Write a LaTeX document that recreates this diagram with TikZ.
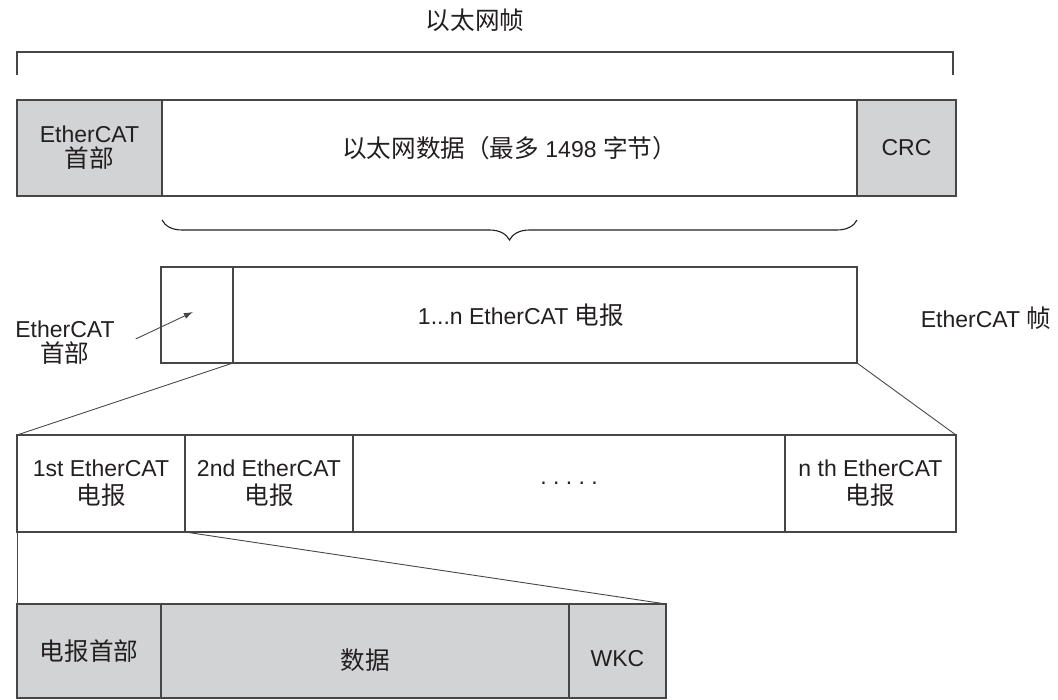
\documentclass[tikz,border=0pt]{standalone}
\usepackage{fontspec}
\setmainfont{Liberation Sans}
\newfontfamily\cjk[Scale=1.07]{Noto Sans CJK SC}
\newcommand{\zh}[1]{{\cjk #1}}
\usetikzlibrary{positioning,arrows.meta,decorations.pathreplacing}
\definecolor{fieldgray}{RGB}{209,211,212}
\definecolor{linegray}{RGB}{70,70,70}
\definecolor{inkgray}{RGB}{35,31,32}
\tikzset{>={Latex[width=2.2mm,length=3.2mm]}}
\tikzset{
	txt/.style={inner sep=0pt, outer sep=0pt, align=center, text=inkgray, font=\fontsize{23}{25}\selectfont},
	field/.style={txt, draw=linegray, line width=1.4pt, minimum height=96pt},
	grayfield/.style={field, fill=fieldgray},
	thinline/.style={draw=linegray, line width=0.9pt},
	bracket/.style={draw=linegray, line width=1.2pt},
	curly/.style={draw=inkgray, line width=1.1pt, decorate, decoration={brace, mirror, amplitude=20pt}}
}

\begin{document}
\begin{tikzpicture}[x=1pt, y=-1pt]
	\useasboundingbox (0,0) rectangle (1058,700);
	
	% Ethernet frame
	\node[txt] (title) at (475,20) {\zh{以太网帧}};
	\draw[bracket] (17,75) |- (953,52) -- (953,75);
	
	\node[grayfield, minimum width=145pt, anchor=north west] (ecHdr) at (17,100) {EtherCAT\\\zh{首部}};
	\node[field, minimum width=695pt, right=0pt of ecHdr] (ethData) {\zh{以太网数据（最多} 1498 \zh{字节）}};
	\node[grayfield, minimum width=99pt, right=0pt of ethData] (crc) {CRC};
	
	\draw[curly] ([yshift=-24pt]ethData.south west) -- ([yshift=-24pt]ethData.south east);
	
	% EtherCAT frame
	\node[field, minimum width=72pt, anchor=north west] (frmHdr) at (161,267) {};
	\node[field, minimum width=624pt, right=0pt of frmHdr, label={[txt, xshift=-24pt]center:1...n EtherCAT \zh{电报}}] (frmBody) {};
	\node[txt] (frmLbl) at (986,318) {EtherCAT \zh{帧}};
	
	\node[txt] (hdrLbl) at (65,343) {EtherCAT\\\zh{首部}};
	\coordinate (hdrTip) at (193,312);
	\draw[->, thinline] ([xshift=21pt, yshift=4pt]hdrLbl.east) -- (hdrTip);
	
	% telegrams
	\node[field, minimum width=168pt, minimum height=97pt, anchor=north west] (tg1) at (17,435) {1st EtherCAT\\[3pt]\zh{电报}};
	\node[field, minimum width=168pt, minimum height=97pt, right=0pt of tg1] (tg2) {2nd EtherCAT\\[3pt]\zh{电报}};
	\node[field, minimum width=432pt, minimum height=97pt, right=0pt of tg2] (tgDots) {.\ .\ .\ .\ .};
	\node[field, minimum width=171pt, minimum height=97pt, right=0pt of tgDots] (tgN) {n th EtherCAT\\[3pt]\zh{电报}};
	
	\draw[thinline] (frmHdr.south east) -- (tg1.north west);
	\draw[thinline] (frmBody.south east) -- (tgN.north east);
	
	% one telegram
	\node[grayfield, minimum width=144pt, minimum height=94pt, anchor=north west] (tgHdr) at (17,604) {\zh{电报首部}};
	\node[grayfield, minimum width=408pt, minimum height=94pt, right=0pt of tgHdr, label={[txt, yshift=-9pt]center:\zh{数据}}] (tgData) {};
	\node[grayfield, minimum width=97pt, minimum height=94pt, right=0pt of tgData, label={[txt, yshift=-8pt]center:WKC}] (wkc) {};
	
	\draw[thinline] (tg1.south west) -- (tgHdr.north west);
	\draw[thinline] (tg2.south west) -- (wkc.north east);
\end{tikzpicture}
\end{document}
